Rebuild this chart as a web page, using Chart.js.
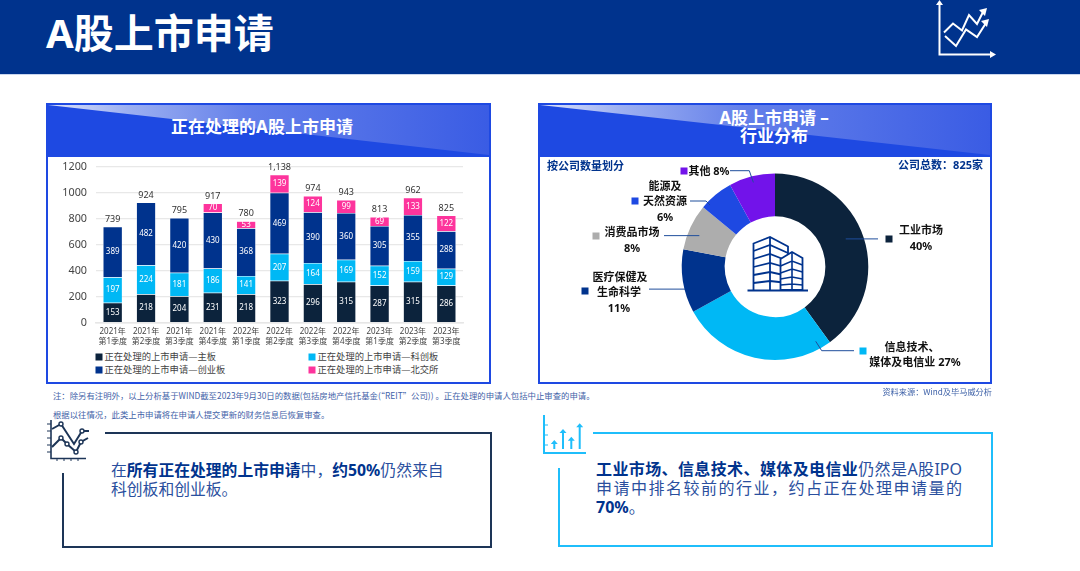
<!DOCTYPE html>
<html lang="zh-CN">
<head>
<meta charset="utf-8">
<title>A股上市申请</title>
<script src="https://cdn.jsdelivr.net/npm/chart.js@4"></script>
<style>
html,body{margin:0;padding:0;background:#fff;width:1080px;height:571px;overflow:hidden;font-family:"Noto Sans","Noto Sans CJK SC",sans-serif}
.abs{position:absolute}
.t{position:absolute;white-space:nowrap;transform:translateY(-50%);line-height:1.2}
.c{transform:translate(-50%,-50%);text-align:center}
.topbar{left:0;top:0;width:1080px;height:74px;background:#00338D;border-bottom:1px solid #C9D6EE}
.panel{border:2px solid #1E49E2;box-sizing:border-box;background:#fff}
.phead{left:0;top:0;right:0;height:52px;background:#1E49E2;overflow:hidden}
.phead i{position:absolute;inset:0;background:linear-gradient(90deg,#DDE3FA 0%,#9DB0F1 18%,#6480EA 45%,#3A5CE4 100%);clip-path:polygon(0 0,100% 0,100% 96%)}
.ptitle{color:#fff;font-weight:700;font-size:17px}
.sq{position:absolute;width:7px;height:7px;transform:translate(-50%,-50%)}
.lg{position:absolute;white-space:nowrap;font-size:9.3px;color:#444;transform:translateY(-50%);line-height:1.2}
.lb{font-size:11px;font-weight:700;color:#111}
.note{font-size:8.4px;color:#3F62A8;font-family:"Noto Sans CJK SC","Noto Sans",sans-serif}
.body b{font-weight:700;color:#00338D}
.body div{position:absolute;left:0;width:100%;white-space:nowrap;font-size:16px;line-height:19px;color:#2A4F9E}
.body .just{text-align:justify;text-align-last:justify;white-space:normal}
canvas{display:block}
</style>
</head>
<body>
<div class="abs topbar"></div>
<div class="t" style="left:46px;top:33px;font-size:40px;font-weight:700;color:#fff">A股上市申请</div>
<svg class="abs" style="left:930px;top:0" width="70" height="60" fill="none" stroke="#fff" stroke-width="2">
  <path d="M9.5 3V54.5H62"/><path d="M9.5 0L6 5H13Z M66 54.5L60 51V58Z" fill="#fff" stroke="none"/>
  <path d="M14 32.5L23 23.5L32 30.5L39 15L47 24L53 12"/><path d="M15 36L26 46L36 29.5L47 37L56 23"/>
  <path d="M57 8L49 10L55 16Z M59 19L51 21L57 27Z" fill="#fff" stroke="none"/>
</svg>

<div class="abs panel" style="left:46px;top:103px;width:445px;height:281px"><div class="abs phead"><i></i></div></div>
<div class="t c ptitle" style="left:262px;top:127px">正在处理的A股上市申请</div>
<div class="abs" style="left:48px;top:158px;width:440px;height:190px"><canvas id="bars" width="440" height="190"></canvas></div>
<div id="legend"></div>

<div class="abs panel" style="left:538px;top:103px;width:454px;height:281px"><div class="abs phead"><i></i></div></div>
<div class="t c ptitle" style="left:774px;top:118px">A股上市申请 –</div>
<div class="t c ptitle" style="left:774px;top:136px">行业分布</div>
<div class="abs" style="left:540px;top:158px;width:450px;height:224px"><canvas id="donut" width="450" height="224"></canvas></div>
<div class="t" style="left:547px;top:166px;font-size:11px;font-weight:700;color:#00338D">按公司数量划分</div>
<div class="t" style="right:97px;top:165px;font-size:11px;font-weight:700;color:#00338D">公司总数：825家</div>
<div id="labels"></div>
<svg class="abs" style="left:746px;top:235px" width="64" height="58" fill="none" stroke="#00338D" stroke-width="1.8">
  <path d="M1.5 55.5H62" stroke-width="2.2"/>
  <path d="M7.5 55V8.5L24 2L42 11.5V55M24 2V55"/>
  <path d="M7.5 16L24 10L42 18M7.5 24L24 19L42 26M7.5 32L24 28L42 33M7.5 40L24 37L42 41M7.5 48L24 46L42 48"/>
  <path d="M34.5 55V24L46 17L56.5 23V55Z" fill="#fff"/>
  <path d="M46 17V55M34.5 31L46 26L56.5 30M34.5 38L46 34L56.5 37M34.5 44L46 42L56.5 44M34.5 50L46 49L56.5 50" stroke-width="1.6"/>
</svg>

<div class="t note" style="left:53px;top:395px">注：除另有注明外，以上分析基于WIND截至2023年9月30日的数据(包括房地产信托基金(“REIT”公司)) 。正在处理的申请人包括中止审查的申请。</div>
<div class="t note" style="left:53px;top:413.5px">根据以往情况，此类上市申请将在申请人提交更新的财务信息后恢复审查。</div>
<div class="t note" style="right:88px;top:392px;font-size:8.2px">资料来源：Wind及毕马威分析</div>

<div class="abs" style="left:105px;top:432px;width:387px;height:2px;background:#1D3557"></div>
<div class="abs" style="left:490px;top:432px;width:2px;height:116px;background:#1D3557"></div>
<div class="abs" style="left:62px;top:546px;width:430px;height:2px;background:#1D3557"></div>
<div class="abs" style="left:62px;top:473px;width:2px;height:75px;background:#1D3557"></div>
<svg class="abs" style="left:46px;top:419px" width="44" height="43" fill="none" stroke="#1D3557" stroke-width="2">
  <path d="M5 1V39.5H40" stroke-width="1.6"/><path d="M1 5H5M1 12H5M1 19H5M1 26H5M1 33H5M11 39.5V42M18 39.5V42M25 39.5V42M32 39.5V42" stroke-width="1"/>
  <path d="M6 10L15 5L28 25L36 12H43"/><path d="M6 28L15 19L21 25L30 33L35 23L42 19"/>
  <g fill="#fff" stroke-width="1.4"><circle cx="15" cy="5" r="2"/><circle cx="36" cy="12" r="2"/><circle cx="15" cy="19" r="2"/><circle cx="21" cy="25" r="2"/><circle cx="30" cy="33" r="2"/><circle cx="35" cy="23" r="2"/></g>
</svg>
<div class="abs body" style="left:111px;top:461px;width:333px">
  <div style="top:0;font-size:15.8px">在<b>所有正在处理的上市申请</b>中，<b>约50%</b>仍然来自</div>
  <div style="top:19px;font-size:15.8px">科创板和创业板。</div>
</div>

<div class="abs" style="left:593px;top:432px;width:400px;height:2px;background:#1FBEFB"></div>
<div class="abs" style="left:991px;top:432px;width:2px;height:115px;background:#1FBEFB"></div>
<div class="abs" style="left:558px;top:545px;width:435px;height:2px;background:#1FBEFB"></div>
<div class="abs" style="left:558px;top:468px;width:2px;height:79px;background:#1FBEFB"></div>
<svg class="abs" style="left:542px;top:414px" width="46" height="42" fill="none" stroke="#1FBEFB" stroke-width="2">
  <path d="M2 1V39H44"/><path d="M2 11H6M2 21H6M2 31H6" stroke-width="1.2"/>
  <path d="M12.3 35V29M21 35V18M29.3 35V26M37.7 35V12"/>
  <path d="M8.8 30L12.3 26L15.8 30Z M17.5 19L21 15L24.5 19Z M25.8 26.7L29.3 22.7L32.8 26.7Z M34.2 13.3L37.7 9.3L41.2 13.3Z" fill="#1FBEFB" stroke="none"/>
</svg>
<div class="abs body" style="left:596px;top:459.5px;width:366px">
  <div class="just" style="top:0"><b>工业市场、信息技术、媒体及电信业</b>仍然是A股IPO</div>
  <div class="just" style="top:19px">申请中排名较前的行业，约占正在处理申请量的</div>
  <div style="top:38px"><b>70%</b>。</div>
</div>

<script>
const yearLabels = ["2021年","2021年","2021年","2021年","2022年","2022年","2022年","2022年","2023年","2023年","2023年"];
const quarterLabels = ["第1季度","第2季度","第3季度","第4季度","第1季度","第2季度","第3季度","第4季度","第1季度","第2季度","第3季度"];
const mainBoard = [153,218,204,231,218,323,296,315,287,315,286];
const starMarket = [197,224,181,186,141,207,164,169,152,159,129];
const chiNext = [389,482,420,430,368,469,390,360,305,355,288];
const beijing = [null,null,null,70,53,139,124,99,69,133,122];
const totalLabels = ["739","924","795","917","780","1,138","974","943","813","962","825"];
const seriesNames = ["正在处理的上市申请—主板","正在处理的上市申请—科创板","正在处理的上市申请—创业板","正在处理的上市申请—北交所"];
const seriesColors = ["#0C233C","#00B8F5","#00338D","#FD349C"];
const yTicks = [0,200,400,600,800,1000,1200];
const industryNames = ["工业市场","信息技术、媒体及电信业","医疗保健及生命科学","消费品市场","能源及天然资源","其他"];
const industryShares = [40,27,11,8,6,8];
const industryColors = ["#0C233C","#00B8F5","#00338D","#ADADAD","#1E49E2","#7213EA"];

const FONT = '"Noto Sans","Noto Sans CJK SC",sans-serif';
Chart.defaults.font.family = FONT;
Chart.defaults.animation = false;

const barLabels = {
  id:'barLabels',
  afterDatasetsDraw(chart){
    const {ctx} = chart;
    ctx.save();
    ctx.textAlign='center';ctx.textBaseline='middle';
    chart.data.datasets.forEach((ds,i)=>{
      chart.getDatasetMeta(i).data.forEach((el,j)=>{
        if(ds.data[j]==null) return;
        ctx.font='8px '+FONT;ctx.fillStyle='#fff';
        ctx.fillText(ds.data[j],el.x,(el.y+el.base)/2);
      });
    });
    const n=chart.data.datasets.length;
    totalLabels.forEach((txt,j)=>{
      let top=Infinity,x=0;
      for(let i=0;i<n;i++){
        if(chart.data.datasets[i].data[j]==null) continue;
        const el=chart.getDatasetMeta(i).data[j];top=Math.min(top,el.y);x=el.x;
      }
      ctx.font='9px '+FONT;ctx.fillStyle='#333';
      ctx.fillText(txt,x,top-7.5);
    });
    ctx.restore();
  }
};

new Chart(document.getElementById('bars'),{
  type:'bar',
  plugins:[barLabels],
  data:{
    labels:yearLabels.map((y,i)=>[y,quarterLabels[i]]),
    datasets:[mainBoard,starMarket,chiNext,beijing].map((d,i)=>({
      label:seriesNames[i],data:d,backgroundColor:seriesColors[i],
      borderColor:'#fff',borderWidth:0.5,categoryPercentage:1,barPercentage:0.58
    }))
  },
  options:{
    responsive:false,
    layout:{padding:{left:0,right:25,top:8.7,bottom:0}},
    plugins:{legend:{display:false},tooltip:{enabled:false}},
    scales:{
      x:{stacked:true,
        afterFit(s){s.height=25.3;s.paddingLeft=0;s.paddingRight=0},
        grid:{display:false,drawTicks:false},
        border:{color:'#E6E6E6',width:1.5},
        ticks:{color:'#444',font:{size:8,lineHeight:1.25},padding:4,maxRotation:0,minRotation:0,autoSkip:false}},
      y:{stacked:true,min:0,max:1200,
        afterFit(s){s.width=48;s.paddingTop=0;s.paddingBottom=0},
        afterBuildTicks(s){s.ticks=yTicks.map(v=>({value:v}))},
        grid:{color:'#E8E8E8',lineWidth:1.3,drawTicks:false},
        border:{display:false},
        ticks:{color:'#444',font:{size:10.8},padding:9,callback:v=>String(v)}}
    }
  }
});

/* legend, two columns, from the series names */
const legendSlots=[[0,95,357],[1,308,357],[2,95,370],[3,308,370]];
const lgHost=document.getElementById('legend');
legendSlots.forEach(([i,x,y])=>{
  lgHost.insertAdjacentHTML('beforeend',
   `<div class="sq" style="left:${x+3.5}px;top:${y}px;background:${seriesColors[i]}"></div>`+
   `<div class="lg" style="left:${x+9.5}px;top:${y}px">${seriesNames[i]}</div>`);
});

/* doughnut call-outs: slice index, position inside the slice, elbow x / y in panel layout */
const leaders=[
  {i:0,f:0.476,r:76,  flatTo:878},
  {i:1,f:0.076,r:85,  pts:[[821.7,350.7],[854,350.7]]},
  {i:2,f:0.374,r:92.7,flatTo:649},
  {i:3,f:0.40,r:81.8, flatTo:664},
  {i:4,f:0.18,r:89.6, pts:[[706,201],[690,201]]},
  {i:5,f:0.5,r:87,    pts:[[749.3,170.7],[730,170.7]]}
];
const leaderLines={
  id:'leaderLines',
  afterDatasetsDraw(chart){
    const {ctx}=chart,meta=chart.getDatasetMeta(0),ox=540,oy=158;
    ctx.save();ctx.strokeStyle='#1F4E9C';ctx.lineWidth=1;
    leaders.forEach(l=>{
      const a=meta.data[l.i],ang=a.startAngle+(a.endAngle-a.startAngle)*l.f;
      const sx=a.x+Math.cos(ang)*l.r, sy=a.y+Math.sin(ang)*l.r;
      ctx.beginPath();
      ctx.moveTo(sx,sy);
      if(l.flatTo!==undefined) ctx.lineTo(l.flatTo-ox,sy);
      else l.pts.forEach(p=>ctx.lineTo(p[0]-ox,p[1]-oy));
      ctx.stroke();
    });
    ctx.restore();
  }
};
new Chart(document.getElementById('donut'),{
  type:'doughnut',
  plugins:[leaderLines],
  data:{labels:industryNames,datasets:[{data:industryShares,backgroundColor:industryColors,borderWidth:0}]},
  options:{
    responsive:false,cutout:'54%',
    layout:{padding:{left:20,right:0,top:15.4,bottom:22}},
    plugins:{legend:{display:false},tooltip:{enabled:false}}
  }
});

/* call-out text */
const calloutText=[
  {i:0,sq:[889,239],lines:[["工业市场",921,230],["40%",921,246]]},
  {i:1,sq:[863,351],lines:[["信息技术、",912,347],["媒体及电信业 27%",915,362]]},
  {i:2,sq:[585,291],lines:[["医疗保健及",620,277],["生命科学",619,292],["11%",619,308]]},
  {i:3,sq:[595.5,235.5],lines:[["消费品市场",632,232],["8%",632,248]]},
  {i:4,sq:[635,201],lines:[["能源及",665,186],["天然资源",665,201],["6%",665,217]]},
  {i:5,sq:[684,171],lines:[["其他 8%",709,171]]}
];
const lbHost=document.getElementById('labels');
calloutText.forEach(c=>{
  lbHost.insertAdjacentHTML('beforeend',`<div class="sq" style="left:${c.sq[0]}px;top:${c.sq[1]}px;background:${industryColors[c.i]}"></div>`);
  c.lines.forEach(([s,x,y])=>lbHost.insertAdjacentHTML('beforeend',`<div class="t c lb" style="left:${x}px;top:${y}px">${s}</div>`));
});
</script>
</body>
</html>
